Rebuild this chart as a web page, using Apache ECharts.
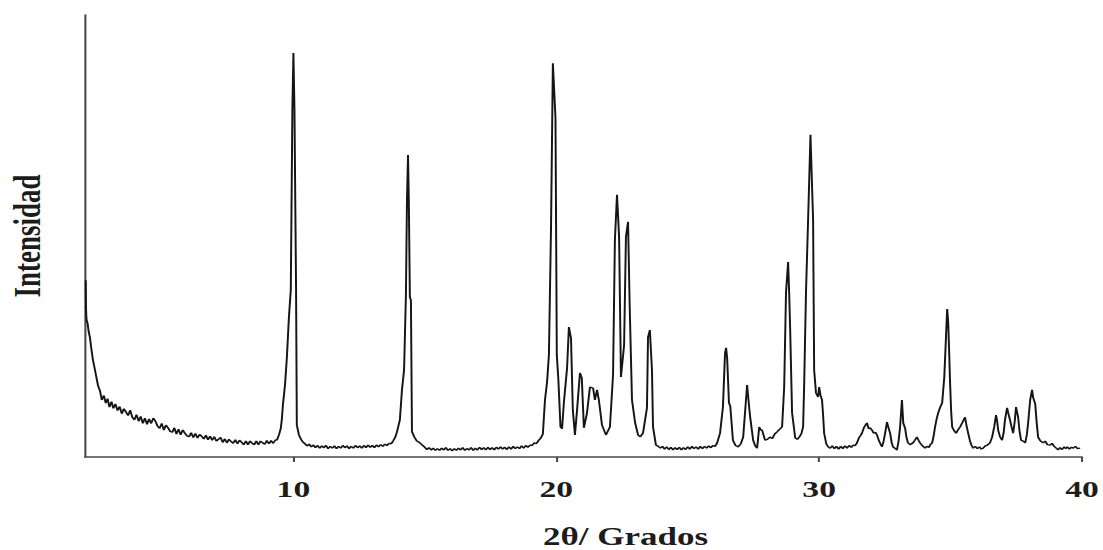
<!DOCTYPE html>
<html>
<head>
<meta charset="utf-8">
<script src="https://cdn.jsdelivr.net/npm/echarts@6/dist/echarts.min.js"></script>
<style>
  html, body { margin: 0; padding: 0; background: #fff; overflow: hidden; }
  #wrap { width: 1103px; height: 550px; overflow: hidden; }
  /* the figure is drawn narrow and widened horizontally */
  #chart { width: 788px; height: 550px; transform: scaleX(1.39975); transform-origin: 0 0; }
</style>
</head>
<body>
<div id="wrap"><div id="chart"></div></div>
<script>
// 2θ (degrees)
const twoTheta = [
  2.10, 2.11, 2.13, 2.17, 2.21, 2.26, 2.31, 2.37, 2.43, 2.50, 2.57, 2.64, 2.71, 2.79, 2.86, 2.93,
  3.00, 3.08, 3.15, 3.23, 3.31, 3.39, 3.47, 3.55, 3.63, 3.71, 3.79, 3.87, 3.95, 4.03, 4.11, 4.19,
  4.27, 4.35, 4.43, 4.51, 4.59, 4.67, 4.75, 4.83, 4.91, 4.99, 5.07, 5.15, 5.23, 5.31, 5.39, 5.47,
  5.55, 5.63, 5.71, 5.79, 5.87, 5.95, 6.03, 6.11, 6.19, 6.27, 6.35, 6.43, 6.51, 6.59, 6.67, 6.75,
  6.83, 6.91, 6.99, 7.07, 7.15, 7.23, 7.31, 7.39, 7.47, 7.55, 7.63, 7.71, 7.79, 7.87, 7.95, 8.03,
  8.11, 8.19, 8.27, 8.35, 8.43, 8.51, 8.59, 8.67, 8.75, 8.83, 8.91, 8.99, 9.07, 9.15, 9.23, 9.31,
  9.38, 9.45, 9.52, 9.56, 9.60, 9.68, 9.75, 9.83, 9.90, 9.96, 10.00, 10.04, 10.10, 10.13, 10.21, 10.29,
  10.36, 10.44, 10.52, 10.60, 10.68, 10.76, 10.84, 10.92, 11.00, 11.08, 11.16, 11.24, 11.32, 11.40, 11.48, 11.56,
  11.64, 11.72, 11.80, 11.88, 11.96, 12.04, 12.12, 12.20, 12.28, 12.36, 12.44, 12.52, 12.60, 12.68, 12.76, 12.84,
  12.92, 13.00, 13.08, 13.16, 13.24, 13.32, 13.40, 13.48, 13.56, 13.64, 13.72, 13.79, 13.87, 13.94, 14.05, 14.13,
  14.21, 14.28, 14.32, 14.36, 14.39, 14.43, 14.47, 14.51, 14.58, 14.62, 14.70, 14.81, 14.90,
  15.00, 15.08, 15.16, 15.24, 15.32, 15.40, 15.48, 15.56, 15.64, 15.72, 15.80, 15.88, 15.96, 16.04, 16.12, 16.20,
  16.28, 16.36, 16.44, 16.52, 16.60, 16.68, 16.76, 16.84, 16.92, 17.00, 17.08, 17.16, 17.24, 17.32, 17.40, 17.48,
  17.56, 17.64, 17.72, 17.80, 17.88, 17.96, 18.04, 18.12, 18.20, 18.28, 18.36, 18.44, 18.52, 18.60, 18.68, 18.76,
  18.84, 18.92, 19.00, 19.08, 19.16, 19.24, 19.32, 19.40, 19.49, 19.57, 19.65, 19.72, 19.80, 19.87, 19.97, 20.02,
  20.08, 20.16, 20.22, 20.29, 20.41, 20.48, 20.56, 20.63, 20.71, 20.79, 20.90, 20.97, 21.05, 21.17, 21.28, 21.40,
  21.47, 21.55, 21.62, 21.74, 21.89, 22.04, 22.16, 22.23, 22.31, 22.39, 22.46, 22.58, 22.65, 22.73, 22.79, 22.88,
  23.00, 23.11, 23.20, 23.30, 23.45, 23.49, 23.56, 23.64, 23.68, 23.79, 23.88,
  23.96, 24.04, 24.12, 24.20, 24.28, 24.36, 24.44, 24.52, 24.60, 24.68, 24.76, 24.84, 24.92, 25.00, 25.08, 25.16,
  25.24, 25.32, 25.40, 25.48, 25.56, 25.64, 25.72, 25.80, 25.88, 25.96, 26.04, 26.12, 26.23, 26.34, 26.42, 26.46,
  26.50, 26.57, 26.62, 26.72, 26.82, 26.92, 27.02, 27.11, 27.18, 27.26, 27.31, 27.37, 27.49, 27.57, 27.64, 27.72,
  27.78, 27.83, 27.94, 28.03, 28.13, 28.22, 28.31, 28.40, 28.50, 28.59, 28.67, 28.74, 28.82, 28.86, 28.90, 28.97,
  29.09, 29.17, 29.24, 29.32, 29.39, 29.43, 29.50, 29.58, 29.67, 29.77, 29.81, 29.88, 29.96, 30.00, 30.05, 30.11,
  30.15, 30.19, 30.27, 30.34, 30.42, 30.50, 30.58, 30.66, 30.74, 30.82, 30.90, 30.98, 31.06, 31.14, 31.22, 31.30,
  31.37, 31.44, 31.52, 31.58, 31.63, 31.70, 31.76, 31.82, 31.88, 31.94, 32.01, 32.07, 32.14, 32.20, 32.28, 32.34,
  32.39, 32.45, 32.51, 32.58, 32.64, 32.70, 32.76, 32.81, 32.88, 32.96, 33.02, 33.08, 33.15, 33.20, 33.27, 33.32,
  33.38, 33.46, 33.57, 33.64, 33.72, 33.78, 33.84, 33.92, 34.03, 34.10, 34.18, 34.24, 34.30, 34.36, 34.41, 34.47,
  34.53, 34.60, 34.68, 34.76, 34.80, 34.87, 34.91, 34.95, 34.98, 35.02, 35.06, 35.14, 35.21, 35.28, 35.36, 35.45,
  35.55, 35.61, 35.67, 35.74, 35.80, 35.86, 35.94, 36.02, 36.10, 36.17, 36.24, 36.32, 36.40, 36.50, 36.58, 36.66,
  36.73, 36.77, 36.81, 36.88, 36.96, 37.02, 37.07, 37.15, 37.20, 37.26, 37.32, 37.38, 37.44, 37.49, 37.57, 37.62,
  37.68, 37.76, 37.84, 37.90, 37.95, 38.03, 38.10, 38.14, 38.22, 38.28, 38.33, 38.42, 38.52, 38.60, 38.68, 38.79,
  38.86, 38.94, 39.02, 39.09, 39.16, 39.24, 39.32, 39.38, 39.44, 39.52, 39.60, 39.67, 39.75, 39.83, 39.93
];

// intensity (arbitrary units)
const intensity = [
  40.0, 33.5, 31.0, 30.2, 28.4, 27.0, 24.6, 22.1, 20.3, 18.2, 16.1, 15.0, 12.9, 13.9, 12.2, 13.2,
  11.3, 12.5, 11.0, 12.0, 10.5, 11.4, 9.8, 10.9, 10.2, 9.4, 10.6, 9.0, 8.4, 9.6, 8.1, 9.2,
  7.6, 8.8, 7.4, 8.6, 7.6, 8.8, 8.1, 7.0, 6.5, 7.6, 6.1, 7.2, 6.6, 5.8, 5.6, 6.6,
  5.2, 6.3, 5.0, 6.1, 5.4, 4.8, 4.6, 5.5, 4.4, 5.3, 4.3, 5.1, 4.7, 4.1, 4.9, 3.9,
  4.7, 3.8, 4.6, 3.6, 4.0, 4.4, 3.3, 4.1, 3.2, 4.0, 3.5, 3.1, 3.9, 3.0, 3.8, 3.3,
  2.8, 3.6, 2.8, 3.6, 3.1, 2.8, 3.6, 2.8, 3.6, 3.2, 2.9, 3.7, 3.0, 3.7, 3.1, 3.8,
  3.9, 5.0, 6.5, 8.5, 11.8, 16.3, 22.4, 31.7, 37.8, 78.5, 91.4, 78.5, 38.5, 7.2, 5.0, 4.0,
  3.4, 3.0, 2.5, 2.9, 2.3, 2.7, 2.1, 2.6, 2.0, 2.5, 2.1, 2.6, 1.9, 2.4, 2.0, 2.5,
  1.9, 2.4, 2.0, 2.6, 2.1, 2.5, 1.9, 2.4, 2.0, 2.6, 2.1, 2.5, 2.0, 2.6, 2.1, 2.7,
  2.2, 2.6, 2.1, 2.7, 2.3, 2.8, 2.4, 2.9, 2.6, 3.1, 3.0, 3.6, 4.4, 5.7, 8.4, 15.2,
  19.7, 36.7, 58.1, 68.3, 58.1, 36.2, 35.5, 5.7, 4.8, 4.3, 3.6, 3.2, 2.7,
  2.2, 1.7, 2.1, 1.6, 2.0, 1.5, 1.9, 1.5, 2.0, 1.6, 2.1, 1.5, 1.9, 1.4, 1.9, 1.5,
  2.0, 1.6, 2.1, 1.5, 1.9, 1.6, 2.1, 1.5, 2.0, 1.6, 2.2, 1.7, 2.1, 1.6, 2.2, 1.7,
  2.1, 1.6, 2.2, 1.8, 2.3, 1.8, 2.2, 1.7, 2.3, 1.8, 2.4, 1.9, 2.3, 1.9, 2.5, 2.0,
  2.6, 2.2, 2.7, 2.6, 3.2, 3.0, 3.7, 4.2, 5.2, 12.9, 17.0, 23.1, 52.0, 89.1, 76.7, 23.1,
  17.4, 6.8, 6.4, 12.4, 20.1, 29.4, 26.9, 10.6, 5.0, 10.6, 19.0, 17.9, 6.6, 10.0, 15.8, 15.6,
  12.9, 15.2, 12.9, 7.2, 5.0, 6.8, 18.6, 49.1, 59.3, 49.8, 18.1, 25.3, 49.8, 53.2, 34.8, 12.9,
  7.7, 5.0, 4.6, 5.4, 11.1, 27.1, 28.7, 19.7, 6.8, 2.7, 2.4,
  2.0, 2.4, 1.8, 2.3, 1.7, 2.2, 1.6, 2.1, 1.7, 2.2, 1.6, 2.1, 1.7, 2.3, 1.8, 2.4,
  1.9, 2.3, 1.8, 2.4, 1.9, 2.4, 2.0, 2.5, 2.1, 2.6, 2.4, 3.2, 5.4, 11.3, 23.5, 24.7,
  22.4, 12.2, 11.5, 3.8, 2.6, 2.3, 3.0, 4.5, 10.0, 16.3, 13.0, 9.3, 3.8, 2.5, 2.0, 6.8,
  6.1, 6.1, 3.8, 4.0, 4.5, 4.2, 5.2, 5.7, 6.3, 6.8, 15.8, 37.3, 44.1, 37.0, 28.3, 10.0,
  4.3, 4.0, 4.5, 5.2, 6.8, 16.3, 37.3, 53.6, 72.9, 53.6, 19.7, 14.5, 13.6, 15.8, 14.0, 12.9,
  9.5, 5.4, 3.0, 2.3, 2.0, 2.5, 1.9, 2.4, 1.8, 2.4, 1.9, 2.5, 2.0, 2.6, 2.2, 2.7,
  2.6, 3.2, 4.4, 4.9, 5.4, 6.6, 7.2, 7.7, 6.4, 6.6, 6.1, 5.4, 5.6, 5.0, 3.6, 2.9,
  2.3, 3.5, 5.4, 7.9, 6.6, 5.4, 3.2, 2.3, 2.0, 1.6, 3.5, 6.8, 12.9, 7.7, 6.5, 4.5,
  3.2, 2.8, 3.2, 3.8, 4.5, 3.8, 3.2, 2.6, 2.0, 2.4, 2.2, 2.9, 3.2, 4.9, 6.8, 8.6,
  10.0, 11.2, 12.2, 18.0, 23.5, 33.5, 30.5, 23.0, 17.0, 10.5, 6.8, 5.9, 5.4, 6.1, 6.8, 7.8,
  9.0, 7.0, 5.4, 3.6, 2.6, 2.0, 2.4, 1.9, 2.3, 1.8, 2.0, 2.5, 2.7, 3.2, 4.5, 6.8,
  9.5, 8.2, 6.1, 4.6, 3.8, 5.5, 8.4, 11.1, 9.8, 8.4, 6.8, 5.4, 8.0, 11.3, 9.0, 6.0,
  3.8, 3.6, 3.2, 5.0, 7.7, 13.0, 15.2, 13.5, 12.0, 7.5, 4.5, 3.6, 3.2, 3.6, 2.8, 2.7,
  3.1, 2.4, 2.0, 1.6, 2.1, 1.7, 2.3, 1.9, 2.3, 1.8, 2.2, 2.0, 2.4, 1.9, 2.0
];

const tickValues = [10, 20, 30, 40];

const serif = '"Liberation Serif", "Times New Roman", serif';
const axisColor = '#4a4a4a';

const chart = echarts.init(document.getElementById('chart'), null, { renderer: 'svg' });

chart.setOption({
  animation: false,
  backgroundColor: '#ffffff',
  grid: { left: 60.7, right: 15, top: 15, bottom: 93, outerBoundsMode: 'none' },
  xAxis: {
    type: 'value',
    min: 2.07,
    max: 40,
    name: '2θ/ Grados',
    nameLocation: 'middle',
    nameGap: 69,
    nameTextStyle: {
      fontFamily: serif, fontWeight: 'bold', fontSize: 25, lineHeight: 22,
      color: '#1c1c1c', padding: [0, 0, 0, 60]
    },
    axisLine: { show: true, lineStyle: { color: axisColor, width: 1.5 } },
    axisTick: { show: true, customValues: tickValues, length: 5, lineStyle: { color: axisColor, width: 1.5 } },
    axisLabel: { customValues: tickValues, fontFamily: serif, fontWeight: 'bold', fontSize: 24, color: '#1c1c1c', margin: 20 },
    splitLine: { show: false }
  },
  yAxis: {
    type: 'value',
    min: 0,
    max: 100,
    name: 'Intensidad',
    nameLocation: 'middle',
    nameRotate: 90,
    nameGap: 28,
    nameTextStyle: { fontFamily: serif, fontWeight: 'bold', fontSize: 27, color: '#1c1c1c' },
    axisLine: { show: true, lineStyle: { color: axisColor, width: 1.5 } },
    axisTick: { show: false },
    axisLabel: { show: false },
    splitLine: { show: false }
  },
  series: [{
    type: 'line',
    data: twoTheta.map((t, i) => [t, intensity[i]]),
    showSymbol: false,
    symbol: 'none',
    lineStyle: { color: '#151515', width: 1.4 },
    silent: true
  }]
});
</script>
</body>
</html>
